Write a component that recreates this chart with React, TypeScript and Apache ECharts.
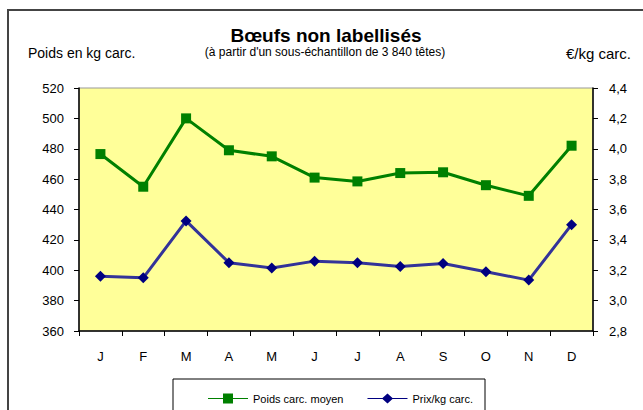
import React, { useEffect, useRef } from "react";
import * as echarts from "echarts";

const months = ["J", "F", "M", "A", "M", "J", "J", "A", "S", "O", "N", "D"];
const poids = [476.5, 455, 500, 479, 475, 461, 458.5, 464, 464.5, 456, 449, 482];
const prix = [3.16, 3.15, 3.525, 3.25, 3.215, 3.26, 3.25, 3.225, 3.245, 3.19, 3.135, 3.5];
const leftTicks = { min: 360, max: 520, interval: 20 };
const rightTicks = { min: 2.8, max: 4.4, interval: 0.2 };

const FONT = "'Liberation Sans', Arial, sans-serif";

export default function App() {
  const ref = useRef<HTMLDivElement>(null);
  useEffect(() => {
    document.body.style.margin = "0";
    const chart = echarts.init(ref.current!, null, { renderer: "svg" });
    chart.setOption({
      animation: false,
      backgroundColor: "#ffffff",
      textStyle: { fontFamily: FONT },
      grid: {
        left: 79,
        right: 50,
        top: 88,
        bottom: 79,
        show: true,
        backgroundColor: "#FFFF99",
        borderColor: "#999999",
        borderWidth: 1,
      },
      legend: {
        left: 203,
        top: 388,
        itemGap: 24,
        itemWidth: 40,
        itemHeight: 10,
        textStyle: { fontFamily: FONT, fontSize: 11, color: "#000" },
        data: [
          { name: "Poids carc. moyen", icon: "path://M0,4.5H15V0H25V4.5H40V5.5H25V10H15V5.5H0Z" },
          { name: "Prix/kg carc.", icon: "path://M0,4.5H15L20,0L25,4.5H40V5.5H25L20,10L15,5.5H0Z" },
        ],
      },
      xAxis: {
        type: "category",
        data: months,
        boundaryGap: true,
        axisLine: { lineStyle: { color: "#000", width: 1.5 } },
        axisTick: { show: true, length: 5, lineStyle: { color: "#000" } },
        axisLabel: { color: "#000", fontSize: 13, margin: 19, fontFamily: FONT },
      },
      yAxis: [
        {
          type: "value",
          ...leftTicks,
          axisLine: { show: true, lineStyle: { color: "#000", width: 1.5 } },
          axisTick: { show: true, length: 5, lineStyle: { color: "#000" } },
          splitLine: { show: false },
          axisLabel: { color: "#000", fontSize: 13, margin: 15, fontFamily: FONT },
        },
        {
          type: "value",
          position: "right",
          ...rightTicks,
          axisLine: { show: true, lineStyle: { color: "#000", width: 1.5 } },
          axisTick: { show: true, length: 5, lineStyle: { color: "#000" } },
          splitLine: { show: false },
          axisLabel: {
            color: "#000",
            fontSize: 13,
            margin: 16,
            fontFamily: FONT,
            formatter: (v: number) => v.toFixed(1).replace(".", ","),
          },
        },
      ],
      series: [
        {
          name: "Poids carc. moyen",
          type: "line",
          yAxisIndex: 0,
          data: poids,
          symbol: "rect",
          symbolSize: 10,
          lineStyle: { color: "#008000", width: 3 },
          itemStyle: { color: "#008000" },
        },
        {
          name: "Prix/kg carc.",
          type: "line",
          yAxisIndex: 1,
          data: prix,
          symbol: "diamond",
          symbolSize: 11,
          lineStyle: { color: "#333399", width: 3 },
          itemStyle: { color: "#000080" },
        },
      ],
      graphic: [
        {
          type: "rect",
          shape: { x: 8, y: 10, width: 700, height: 500 },
          style: { fill: "none", stroke: "#444", lineWidth: 2 },
          silent: true,
        },
        {
          type: "rect",
          shape: { x: 173, y: 379, width: 312, height: 60 },
          style: { fill: "none", stroke: "#000", lineWidth: 1 },
          silent: true,
        },
        {
          type: "text",
          x: 326,
          y: 35,
          style: {
            text: "Bœufs non labellisés",
            fontFamily: FONT,
            fontSize: 19,
            fontWeight: "bold",
            fill: "#000",
            align: "center",
            verticalAlign: "middle",
          },
        },
        {
          type: "text",
          x: 325,
          y: 52,
          style: {
            text: "(à partir d'un sous-échantillon de 3 840 têtes)",
            fontFamily: FONT,
            fontSize: 12,
            fill: "#000",
            align: "center",
            verticalAlign: "middle",
          },
        },
        {
          type: "text",
          x: 28,
          y: 53,
          style: {
            text: "Poids en kg carc.",
            fontFamily: FONT,
            fontSize: 14,
            fill: "#000",
            align: "left",
            verticalAlign: "middle",
          },
        },
        {
          type: "text",
          x: 631,
          y: 53,
          style: {
            text: "€/kg carc.",
            fontFamily: FONT,
            fontSize: 15,
            fill: "#000",
            align: "right",
            verticalAlign: "middle",
          },
        },
      ],
    });
    return () => chart.dispose();
  }, []);
  return <div ref={ref} style={{ width: 643, height: 410 }} />;
}
